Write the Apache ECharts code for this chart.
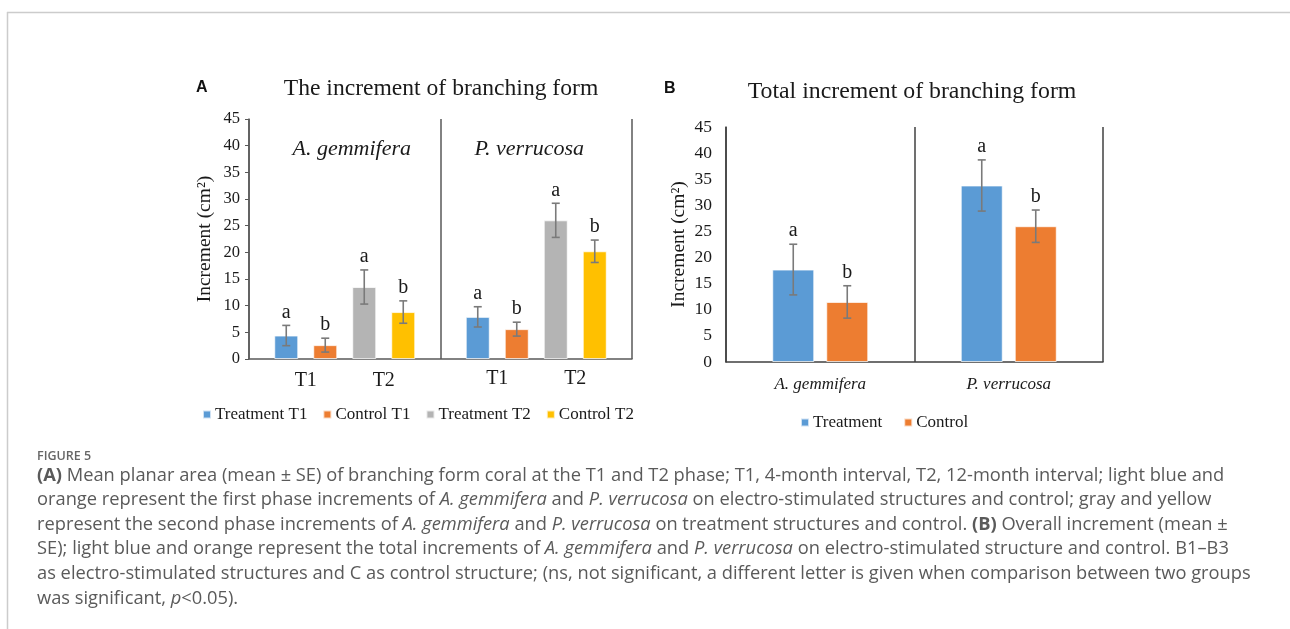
<!DOCTYPE html>
<html>
<head>
    <meta charset="utf-8">
    <title>Increment of branching form</title>
    <script src="https://cdn.jsdelivr.net/npm/echarts@6/dist/echarts.min.js"></script>
    <style>
        body { margin: 0; background: #fff; }
        #main { width: 1290px; height: 629px; }
    </style>
</head>
<body>
    <div id="main"></div>
    <script type="text/javascript">
        // panel A: increment per phase
        var species = ['A. gemmifera', 'P. verrucosa'];
        var phaseLabels = ['T1', 'T2'];
        var aNames = ['Treatment T1', 'Control T1', 'Treatment T2', 'Control T2'];
        var aColors = ['#5B9BD5', '#ED7D31', '#B4B4B4', '#FFC000'];
        // values per series: [A. gemmifera, P. verrucosa]
        var aMeans = [[4.4, 7.9], [2.6, 5.6], [13.5, 26.0], [8.8, 20.2]];
        var aErrors = [[1.9, 1.9], [1.3, 1.3], [3.2, 3.2], [2.1, 2.1]];
        var aLetters = [['a', 'a'], ['b', 'b'], ['a', 'a'], ['b', 'b']];

        // panel B: total increment
        var bNames = ['Treatment', 'Control'];
        var bColors = ['#5B9BD5', '#ED7D31'];
        var bMeans = [[17.7, 33.8], [11.5, 26.0]];
        var bErrors = [[4.85, 4.9], [3.1, 3.1]];
        var bLetters = [['a', 'a'], ['b', 'b']];

        var yTicks = { min: 0, max: 45, interval: 5 };

        var serif = 'Liberation Serif';
        var textCol = '#1a1a1a';
        var errCol = '#7a7a7a';

        // bar layout (px) so error bars can sit on the bars
        var aBarW = 24, aGapPx = 15;
        var bBarW = 42, bGapPx = 12;

        function errorSeries(grid, means, errors, letters, barW, gapPx) {
            var n = means.length;
            var step = barW + gapPx;
            var items = [], lets = [];
            means.forEach(function (row, k) {
                row.forEach(function (v, c) {
                    items.push([c, v, errors[k][c], k]);
                    lets.push(letters[k][c]);
                });
            });
            return {
                type: 'custom',
                xAxisIndex: grid, yAxisIndex: grid,
                z: 5,
                silent: true,
                data: items,
                renderItem: function (params, api) {
                    var c = api.value(0), m = api.value(1), se = api.value(2), k = api.value(3);
                    var x = api.coord([c, m])[0] + (k - (n - 1) / 2) * step;
                    var top = api.coord([c, m + se])[1];
                    var bot = api.coord([c, m - se])[1];
                    var cap = 4;
                    var ls = { stroke: errCol, lineWidth: 1.6 };
                    return {
                        type: 'group',
                        children: [
                            { type: 'line', shape: { x1: x, y1: top, x2: x, y2: bot }, style: ls },
                            { type: 'line', shape: { x1: x - cap, y1: top, x2: x + cap, y2: top }, style: ls },
                            { type: 'line', shape: { x1: x - cap, y1: bot, x2: x + cap, y2: bot }, style: ls },
                            {
                                type: 'text',
                                style: {
                                    x: x, y: top - 3, text: lets[params.dataIndex],
                                    fill: textCol, font: '20px "' + serif + '"',
                                    align: 'center', verticalAlign: 'bottom'
                                }
                            }
                        ]
                    };
                }
            };
        }

        var series = [];
        aNames.forEach(function (name, k) {
            series.push({
                name: name, type: 'bar', xAxisIndex: 0, yAxisIndex: 0,
                barWidth: aBarW, barGap: (aGapPx / aBarW * 100) + '%',
                itemStyle: { color: aColors[k], borderColor: 'rgba(255,255,255,0.7)', borderWidth: 1 },
                data: aMeans[k]
            });
        });
        series.push(errorSeries(0, aMeans, aErrors, aLetters, aBarW, aGapPx));
        // T1 / T2 labels below each group of panel A
        series.push({
            type: 'custom', xAxisIndex: 0, yAxisIndex: 0, silent: true,
            data: species.map(function (s, i) { return [i, 0]; }),
            renderItem: function (params, api) {
                var p = api.coord([api.value(0), 0]);
                var step = aBarW + aGapPx;
                return {
                    type: 'group',
                    children: phaseLabels.map(function (t, j) {
                        return {
                            type: 'text',
                            style: {
                                x: p[0] + (j === 0 ? -step : step), y: p[1] + 22 - params.dataIndex * 2,
                                text: t, fill: textCol, font: '20px "' + serif + '"',
                                align: 'center', verticalAlign: 'middle'
                            }
                        };
                    })
                };
            }
        });
        bNames.forEach(function (name, k) {
            series.push({
                name: name, type: 'bar', xAxisIndex: 1, yAxisIndex: 1,
                barWidth: bBarW, barGap: (bGapPx / bBarW * 100) + '%',
                itemStyle: { color: bColors[k], borderColor: 'rgba(255,255,255,0.7)', borderWidth: 1 },
                data: bMeans[k]
            });
        });
        series.push(errorSeries(1, bMeans, bErrors, bLetters, bBarW, bGapPx));

        function yAxis(grid, lineCol, ticks, margin, nameGap, labelSize) {
            return {
                type: 'value', gridIndex: grid,
                min: yTicks.min, max: yTicks.max, interval: yTicks.interval,
                name: 'Increment (cm²)', nameLocation: 'middle', nameGap: nameGap,
                nameTextStyle: { fontFamily: serif, fontSize: 19.5, color: textCol },
                axisLine: { show: true, lineStyle: { color: lineCol, width: 1.5 } },
                axisTick: { show: ticks, length: 4, lineStyle: { color: lineCol } },
                axisLabel: { fontFamily: serif, fontSize: labelSize, color: textCol, margin: margin },
                splitLine: { show: false }
            };
        }

        var option = {
            backgroundColor: '#fff',
            animation: false,
            title: [
                { text: 'A', left: 196, top: 80, padding: 0, textStyle: { fontFamily: 'Liberation Sans', fontWeight: 'bold', fontSize: 16, color: '#111' } },
                { text: 'The increment of branching form', left: 441, top: 77, padding: 0, textAlign: 'center',
                  textStyle: { fontFamily: serif, fontWeight: 'normal', fontSize: 23.6, color: textCol } },
                { text: 'B', left: 664, top: 81, padding: 0, textStyle: { fontFamily: 'Liberation Sans', fontWeight: 'bold', fontSize: 16, color: '#111' } },
                { text: 'Total increment of branching form', left: 912, top: 80, padding: 0, textAlign: 'center',
                  textStyle: { fontFamily: serif, fontWeight: 'normal', fontSize: 23.8, color: textCol } }
            ],
            legend: [
                { data: aNames, left: 202, top: 406, padding: 0, itemWidth: 8, itemHeight: 8, itemGap: 15, icon: 'rect',
                  textStyle: { fontFamily: serif, fontSize: 17, color: textCol, padding: [0, 0, 0, -1] } },
                { data: bNames, left: 800, top: 414, padding: 0, itemWidth: 8, itemHeight: 8, itemGap: 21, icon: 'rect',
                  textStyle: { fontFamily: serif, fontSize: 17, color: textCol, padding: [0, 0, 0, -1] } }
            ],
            grid: [
                { left: 249, top: 119, width: 383, height: 240 },
                { left: 726, top: 127, width: 377, height: 235 }
            ],
            xAxis: [
                {
                    type: 'category', gridIndex: 0, data: species,
                    axisLine: { lineStyle: { color: '#595959', width: 1.5 } },
                    axisTick: { show: false }, axisLabel: { show: false },
                    splitLine: { show: true, interval: 0, lineStyle: { color: '#595959', width: 1.5 } }
                },
                {
                    type: 'category', gridIndex: 1, data: species,
                    axisLine: { lineStyle: { color: '#404040', width: 1.5 } },
                    axisTick: { show: false },
                    axisLabel: { fontFamily: serif, fontStyle: 'italic', fontSize: 17, color: textCol, margin: 14 },
                    splitLine: { show: true, interval: 0, lineStyle: { color: '#404040', width: 1.5 } }
                },
                {
                    // species names written inside the top of panel A
                    type: 'category', gridIndex: 0, data: species, position: 'top',
                    axisLine: { show: false }, axisTick: { show: false },
                    axisLabel: {
                        inside: true, margin: 19,
                        formatter: function (v, i) { return (i === 0 ? '{l|' : '{r|') + v + '}'; },
                        rich: {
                            l: { fontFamily: serif, fontStyle: 'italic', fontSize: 22, color: textCol, padding: [0, 0, 0, 14] },
                            r: { fontFamily: serif, fontStyle: 'italic', fontSize: 22, color: textCol, padding: [0, 14, 0, 0] }
                        }
                    }
                }
            ],
            yAxis: [
                yAxis(0, '#595959', true, 9, 34, 16.5),
                yAxis(1, '#404040', false, 14, 37, 17.5)
            ],
            series: series,
            graphic: [
                { type: 'line', shape: { x1: 7, y1: 12.5, x2: 1290, y2: 12.5 }, style: { stroke: '#cccccc', lineWidth: 1.5 } },
                { type: 'line', shape: { x1: 7.5, y1: 12, x2: 7.5, y2: 629 }, style: { stroke: '#cccccc', lineWidth: 1.5 } },
                {
                    type: 'text', left: 37, top: 450,
                    style: { text: 'FIGURE 5', fill: '#666', font: '600 12.5px "Open Sans"' }
                },
                {
                    type: 'text', left: 37, top: 463,
                    style: {
                        text: [
                            '{b|(A)} Mean planar area (mean ± SE) of branching form coral at the T1 and T2 phase; T1, 4-month interval, T2, 12-month interval; light blue and',
                            'orange represent the first phase increments of {i|A. gemmifera} and {i|P. verrucosa} on electro-stimulated structures and control; gray and yellow',
                            'represent the second phase increments of {i|A. gemmifera} and {i|P. verrucosa} on treatment structures and control. {b|(B)} Overall increment (mean ±',
                            'SE); light blue and orange represent the total increments of {i|A. gemmifera} and {i|P. verrucosa} on electro-stimulated structure and control. B1–B3',
                            'as electro-stimulated structures and C as control structure; (ns, not significant, a different letter is given when comparison between two groups',
                            'was significant, {i|p}<0.05).'
                        ].join('\n'),
                        font: '18.3px "Open Sans"', fill: '#5a5a5a', lineHeight: 24.6,
                        rich: {
                            b: { fontFamily: 'Open Sans', fontSize: 18.3, fontWeight: 'bold', fill: '#5a5a5a', lineHeight: 24.6 },
                            i: { fontFamily: 'Open Sans', fontSize: 18.3, fontStyle: 'italic', fill: '#5a5a5a', lineHeight: 24.6 }
                        }
                    }
                }
            ]
        };

        var chart = echarts.init(document.getElementById('main'));
        chart.setOption(option);
    </script>
</body>
</html>
